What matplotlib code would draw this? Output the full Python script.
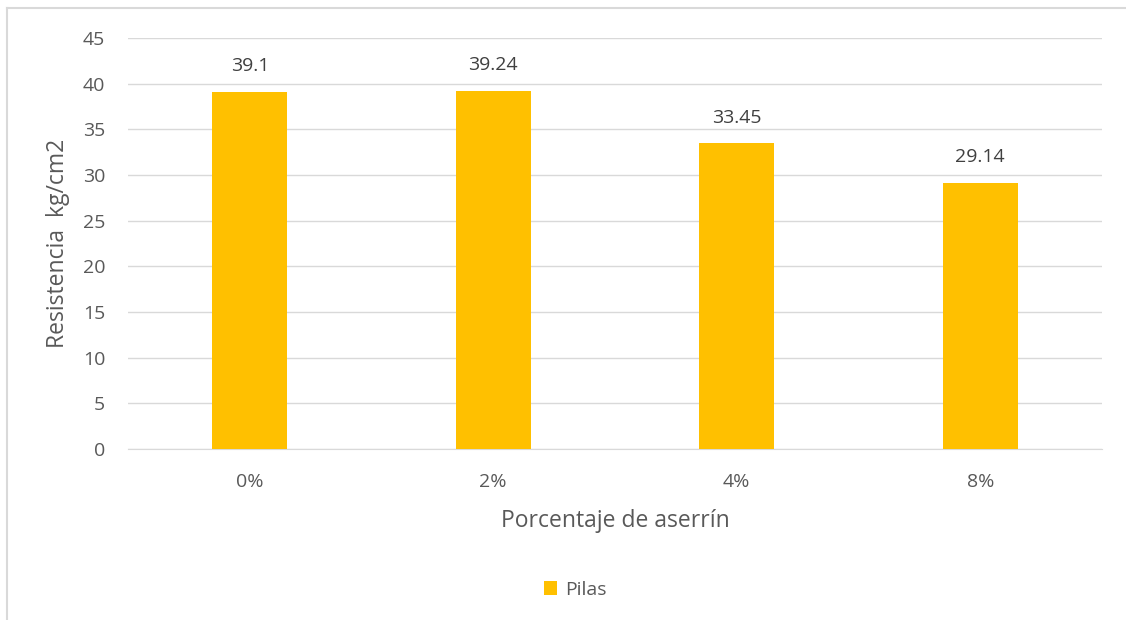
import matplotlib.pyplot as plt
from matplotlib.lines import Line2D

# Data
categories = ["0%", "2%", "4%", "8%"]
values = [39.1, 39.24, 33.45, 29.14]
value_labels = ["39.1", "39.24", "33.45", "29.14"]
series_name = "Pilas"

plt.rcParams['font.family'] = ['Open Sans', 'DejaVu Sans']

fig = plt.figure(figsize=(11.26, 6.2), dpi=100)
ax = fig.add_axes([128/1126, 1 - 449/620, 974/1126, 411/620])

bar_color = "#FFC000"
text_color = "#595959"
grid_color = "#D9D9D9"

x = range(len(categories))
bars = ax.bar(x, values, width=0.31, color=bar_color, label=series_name, zorder=3)

for b, lab in zip(bars, value_labels):
    ax.text(b.get_x() + b.get_width()/2, b.get_height() + 1.85, lab,
            ha="center", va="bottom", fontsize=14, color="#404040")

ax.set_xlim(-0.5, len(categories) - 0.5)
ax.set_ylim(0, 45)
ax.set_yticks(range(0, 46, 5))
ax.set_xticks(list(x))
ax.set_xticklabels(categories)
ax.tick_params(axis="both", length=0, labelsize=14, colors=text_color)
ax.tick_params(axis="y", pad=16.5)
ax.tick_params(axis="x", pad=17)
ax.grid(axis="y", color=grid_color, linewidth=1, zorder=0)

for s in ["top", "right", "left"]:
    ax.spines[s].set_visible(False)
ax.spines["bottom"].set_color(grid_color)

ax.set_xlabel("Porcentaje de aserrín", fontsize=16.5, color=text_color, labelpad=13)
ax.set_ylabel("Resistencia  kg/cm2", fontsize=16.5, color=text_color)
ax.yaxis.set_label_coords((70 - 128)/974, 0.5)

fig.legend(loc="center", bbox_to_anchor=(575/1126, 1 - 590/620), frameon=False,
           fontsize=14, labelcolor=text_color, handlelength=0.7, handleheight=0.7,
           handletextpad=0.4)

# outer chart border (top and left edges visible)
fig.add_artist(Line2D([7/1126, 7/1126], [0, 1 - 8/620], transform=fig.transFigure,
                      color="#D9D9D9", linewidth=1.5))
fig.add_artist(Line2D([7/1126, 1], [1 - 8/620, 1 - 8/620], transform=fig.transFigure,
                      color="#D9D9D9", linewidth=1.5))

plt.savefig("out.png", dpi=100)
